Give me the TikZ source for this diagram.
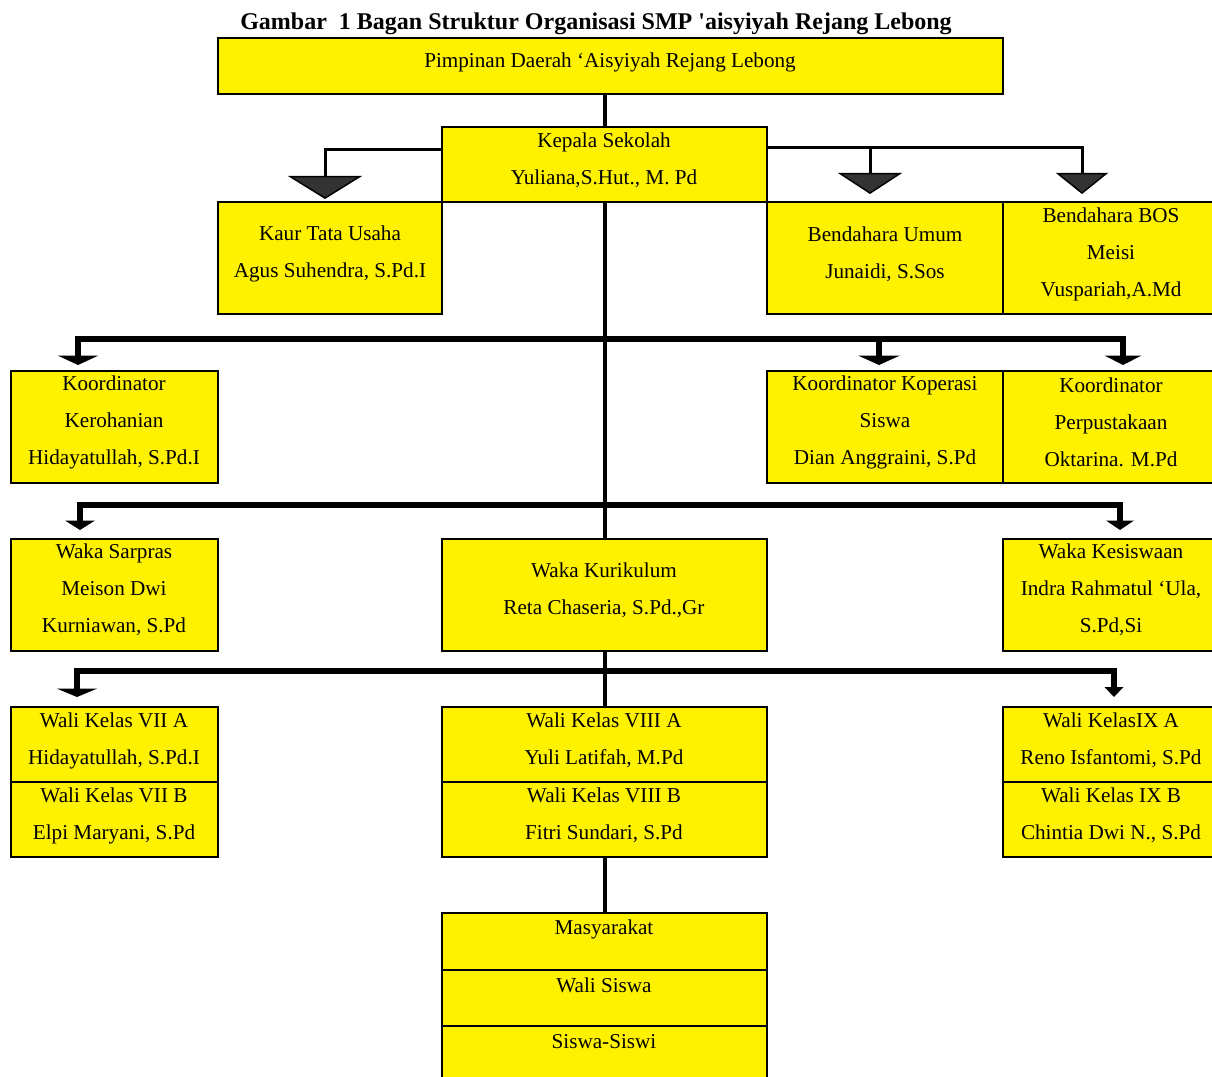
\documentclass[tikz,border=0pt]{standalone}
\usepackage{fontspec}
\setmainfont{Liberation Serif}
\usetikzlibrary{arrows.meta,fit}

\begin{document}
\begin{tikzpicture}[x=0.6pt,y=-0.6pt,
  box/.style={draw=black,line width=1.2pt,fill=yellow,inner sep=0pt},
  txt/.style={align=center,inner sep=0pt,yshift=-1.2pt,font=\fontsize{12.7pt}{22.2pt}\selectfont},
  spine/.style={line width=2.4pt},
  blk/.style={line width=3.4pt},
  gline/.style={line width=1.8pt},
  kep/.style 2 args={-{Triangle[width=#1,length=#2,line width=0pt]}},
  gkep/.style 2 args={-{Triangle[width=#1,length=#2,fill=black!80,line width=0.9pt]}}]
\useasboundingbox (0,0) rectangle (1212,1077);
% judul
\node[font=\bfseries\fontsize{14.4pt}{17pt}\selectfont] (judul) at (596,24) {Gambar~ 1 Bagan Struktur Organisasi SMP \textquotesingle aisyiyah Rejang Lebong};
% pimpinan dan kepala
\node[box,fit={(218,38)(1003,94)}] (pimpinan) {};
\node[txt] (pimpinan-t) at (610,60) {Pimpinan Daerah ‘Aisyiyah Rejang Lebong};
\node[box,fit={(442,127)(767,202)}] (kepala) {};
\node[txt] (kepala-t) at (604,158.5) {Kepala Sekolah\\Yuliana,S.Hut., M. Pd};
% tata usaha dan bendahara
\node[box,fit={(218,202)(442,314)}] (kaur) {};
\node[txt] (kaur-t) at (330,252) {Kaur Tata Usaha\\Agus Suhendra, S.Pd.I};
\node[box,fit={(767,202)(1003,314)}] (bum) {};
\node[txt] (bum-t) at (885,252) {Bendahara Umum\\Junaidi, S.Sos};
\node[box,fit={(1003,202)(1222,314)}] (bos) {};
\node[txt] (bos-t) at (1111,252) {Bendahara BOS\\Meisi\\Vuspariah,A.Md};
% koordinator
\node[box,fit={(11,371)(218,483)}] (kero) {};
\node[txt] (kero-t) at (114,420) {Koordinator\\Kerohanian\\Hidayatullah, S.Pd.I};
\node[box,fit={(767,371)(1003,483)}] (kopr) {};
\node[txt] (kopr-t) at (885,420) {Koordinator Koperasi\\Siswa\\Dian Anggraini, S.Pd};
\node[box,fit={(1003,371)(1222,483)}] (pust) {};
\node[txt] (pust-t) at (1111,420) {Koordinator\\Perpustakaan\\Oktarina. M.Pd};
% waka
\node[box,fit={(11,539)(218,651)}] (sarpras) {};
\node[txt] (sarpras-t) at (114,588) {Waka Sarpras\\Meison Dwi\\Kurniawan, S.Pd};
\node[box,fit={(442,539)(767,651)}] (kuri) {};
\node[txt] (kuri-t) at (604,588.5) {Waka Kurikulum\\Reta Chaseria, S.Pd.,Gr};
\node[box,fit={(1003,539)(1222,651)}] (kesis) {};
\node[txt] (kesis-t) at (1111,588) {Waka Kesiswaan\\Indra Rahmatul ‘Ula,\\S.Pd,Si};
% wali kelas
\node[box,fit={(11,707)(218,782)}] (w7a) {};
\node[txt] (w7a-t) at (114,738.5) {Wali Kelas VII A\\Hidayatullah, S.Pd.I};
\node[box,fit={(11,782)(218,857)}] (w7b) {};
\node[txt] (w7b-t) at (114,813.5) {Wali Kelas VII B\\Elpi Maryani, S.Pd};
\node[box,fit={(442,707)(767,782)}] (w8a) {};
\node[txt] (w8a-t) at (604,738.5) {Wali Kelas VIII A\\Yuli Latifah, M.Pd};
\node[box,fit={(442,782)(767,857)}] (w8b) {};
\node[txt] (w8b-t) at (604,813.5) {Wali Kelas VIII B\\Fitri Sundari, S.Pd};
\node[box,fit={(1003,707)(1222,782)}] (w9a) {};
\node[txt] (w9a-t) at (1111,738.5) {Wali KelasIX A\\Reno Isfantomi, S.Pd};
\node[box,fit={(1003,782)(1222,857)}] (w9b) {};
\node[txt] (w9b-t) at (1111,813.5) {Wali Kelas IX B\\Chintia Dwi N., S.Pd};
% masyarakat
\node[box,fit={(442,913)(767,970)}] (masy) {};
\node[txt] (masy-t) at (604,927) {Masyarakat};
\node[box,fit={(442,970)(767,1026)}] (wsis) {};
\node[txt] (wsis-t) at (604,983) {Wali Siswa};
\node[box,fit={(442,1026)(767,1086)}] (siswa) {};
\node[txt] (siswa-t) at (604,1040) {Siswa-Siswi};
% garis tengah
\draw[spine] (pimpinan.south -| kepala.north) -- (kepala.north);
\draw[spine] (kepala.south) -- (kuri.north);
\draw[spine] (kuri.south) -- (w8a.north);
\draw[spine] (w8b.south) -- (masy.north);
% panah abu-abu
\draw[gline,gkep={44.4pt}{13.8pt},shorten >=1.2pt] (kepala.west |- 0,150) -| (kaur.north -| 325,0);
\draw[gline,gkep={38.4pt}{12.6pt},shorten >=4.2pt] (kepala.east |- 0,148) -| (bum.north -| 870,0);
\draw[gline,gkep={31.2pt}{12.6pt},shorten >=4.2pt] (kepala.east |- 0,148) -| (bos.north -| 1082,0);
% cabang
\coordinate (bar1) at (605,339);
\coordinate (bar2) at (605,505);
\coordinate (bar3) at (605,671);
\draw[blk,kep={24.6pt}{5.7pt},shorten >=3pt] (bar1) -| (kero.north -| 78,0);
\draw[blk,kep={25.2pt}{5.7pt},shorten >=3pt] (bar1 -| 879,0) -- (kopr.north -| 879,0);
\draw[blk,kep={22.2pt}{5.7pt},shorten >=3pt] (bar1) -| (pust.north -| 1123,0);
\draw[blk,kep={18pt}{5.7pt},shorten >=4.8pt] (bar2) -| (sarpras.north -| 80,0);
\draw[blk,kep={16.8pt}{5.7pt},shorten >=4.8pt] (bar2) -| (kesis.north -| 1120,0);
\draw[blk,kep={24pt}{5pt},shorten >=5.4pt] (bar3) -| (w7a.north -| 77,0);
\draw[blk,kep={11.4pt}{6pt},shorten >=5.4pt] (bar3) -| (w9a.north -| 1114,0);
\end{tikzpicture}
\end{document}
